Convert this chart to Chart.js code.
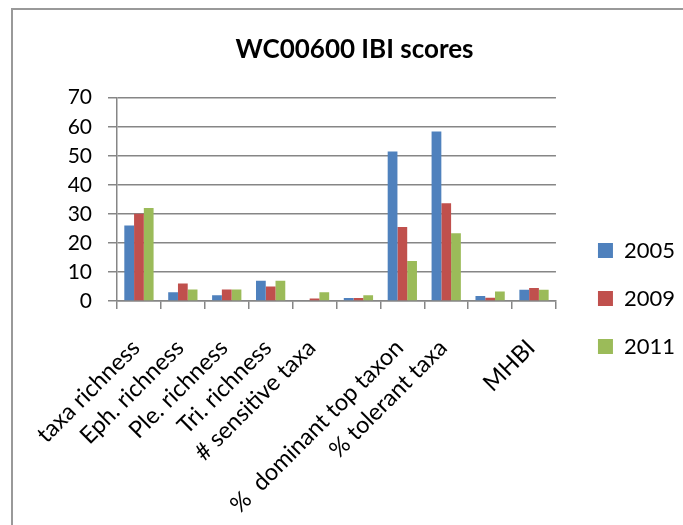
<!DOCTYPE html>
<html>
<head>
<meta charset="utf-8">
<script src="https://cdn.jsdelivr.net/npm/chart.js@4/dist/chart.umd.min.js"></script>
<style>
  html, body { margin: 0; padding: 0; background: #fff; overflow: hidden; }
  #frame {
    position: absolute; left: 11px; top: 8px; width: 720px; height: 560px;
    border: 2px solid #999; box-sizing: border-box;
  }
  #wrap { position: absolute; left: 0; top: 0; width: 683px; height: 525px; }
</style>
</head>
<body>
<div id="frame"></div>
<div id="wrap"><canvas id="chart"></canvas></div>
<script>
const categories = [
  "taxa richness", "Eph. richness", "Ple. richness", "Tri. richness",
  "# sensitive taxa", "", "%  dominant top taxon", "% tolerant taxa", "", "MHBI"
];
const scores2005 = [26, 3, 2, 7, 0, 1, 51.5, 58.4, 1.7, 3.9];
const scores2009 = [30, 6, 4, 5, 0.9, 1, 25.5, 33.7, 1.1, 4.5];
const scores2011 = [32, 4, 4, 7, 3, 2, 13.8, 23.3, 3.3, 3.9];
const yTicks = [0, 10, 20, 30, 40, 50, 60, 70];

const FONT = "Lato";
const GRID = "#868686";

// legend sits a bit right of and below where Chart.js puts it
const shiftLegend = {
  id: "shiftLegend",
  afterLayout(chart) {
    const lg = chart.legend;
    lg.left += 16; lg.right += 16;
    lg.top += 36; lg.bottom += 36;
  },
};

function bar(label, data, color) {
  return {
    label, data,
    backgroundColor: color,
    borderWidth: 0,
    categoryPercentage: 0.667,
    barPercentage: 1.0,
  };
}

new Chart(document.getElementById("chart"), {
  type: "bar",
  data: {
    labels: categories,
    datasets: [
      bar("2005", scores2005, "#4F81BD"),
      bar("2009", scores2009, "#C0504D"),
      bar("2011", scores2011, "#9BBB59"),
    ],
  },
  options: {
    responsive: true,
    maintainAspectRatio: false,
    animation: false,
    layout: { padding: { left: 40, right: 14, top: 0, bottom: 0 } },
    scales: {
      x: {
        grid: { drawOnChartArea: false, drawTicks: true, tickLength: 8, color: GRID, lineWidth: 1.5 },
        border: { display: true, color: GRID, width: 1.5 },
        ticks: {
          autoSkip: false, minRotation: 45, maxRotation: 45,
          color: "#000", padding: 25, labelOffset: -3,
          font: { family: FONT, size: 23.5 },
        },
        afterFit: (scale) => { scale.height = 224; },
      },
      y: {
        min: 0, max: 70,
        afterBuildTicks: (scale) => { scale.ticks = yTicks.map((v) => ({ value: v })); },
        grid: { color: GRID, lineWidth: 1.5, tickLength: 9 },
        border: { display: true, color: GRID, width: 1.5 },
        ticks: { color: "#000", padding: 16, font: { family: FONT, size: 21 } },
        afterFit: (scale) => { scale.width = 77; },
      },
    },
    plugins: {
      title: {
        display: true,
        text: "WC00600 IBI scores",
        color: "#000",
        font: { family: FONT, size: 26, weight: "bold" },
        padding: { top: 34, bottom: 32.5 },
      },
      legend: {
        position: "right",
        labels: {
          color: "#000",
          boxWidth: 15, boxHeight: 15, padding: 26,
          font: { family: FONT, size: 22 },
        },
      },
      tooltip: { enabled: false },
    },
  },
  plugins: [shiftLegend],
});
</script>
</body>
</html>
